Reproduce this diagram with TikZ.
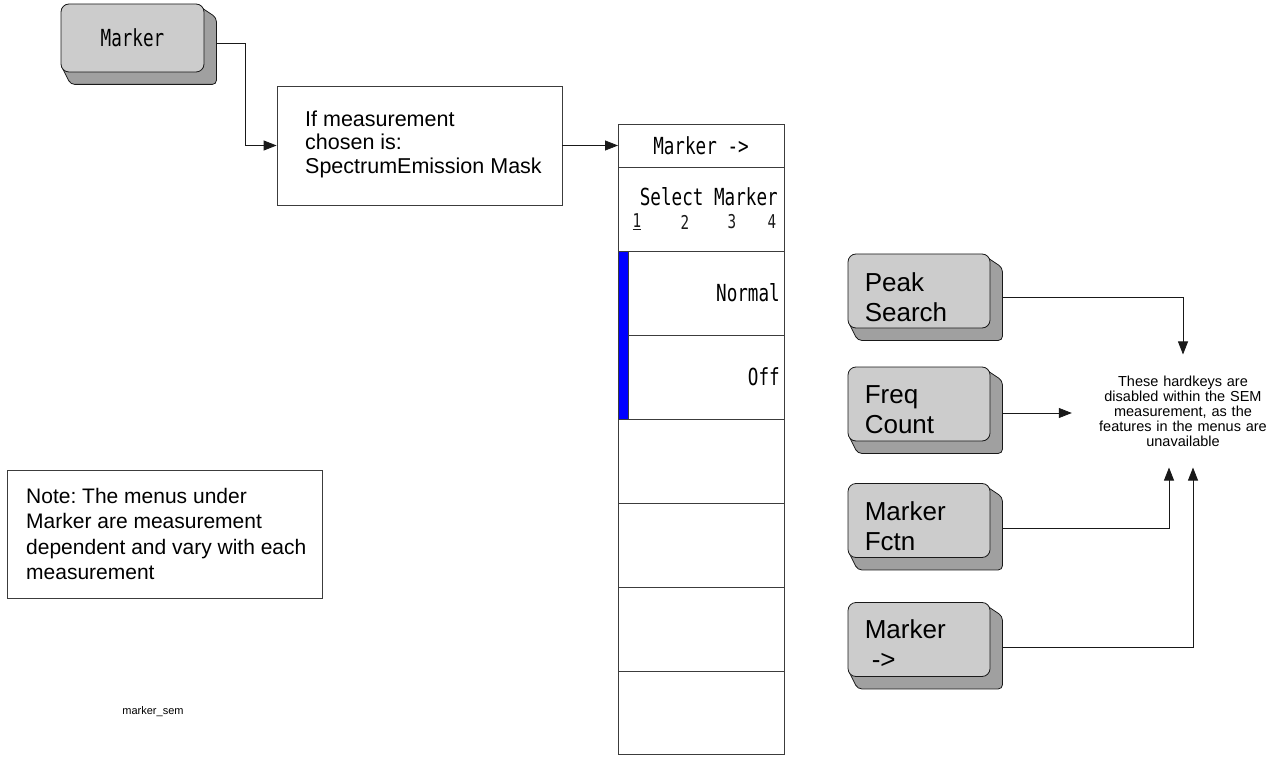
\documentclass[tikz,border=0pt]{standalone}
\usepackage{fontspec}
\setmainfont{Liberation Sans}
\newfontfamily\keyfont[FakeStretch=0.75]{DejaVu Sans Mono}
\usetikzlibrary{calc,arrows.meta,backgrounds}
\definecolor{facec}{RGB}{204,204,204}
\definecolor{shadowc}{RGB}{160,160,160}
\definecolor{linec}{RGB}{25,25,25}
\definecolor{boxline}{RGB}{60,60,60}
\definecolor{barblue}{RGB}{0,0,255}
\frenchspacing
\tikzset{
  conn/.style={draw=linec, line width=0.8pt, -{Triangle[length=13pt,width=10pt]}},
  keyface/.style={draw=linec, fill=facec, rounded corners=8pt, line width=0.8pt,
    minimum width=142pt, minimum height=74pt, inner sep=0pt},
  keytext/.style={anchor=west, align=left, font=\fontsize{26}{30}\selectfont, inner sep=0pt},
  monotext/.style={font=\keyfont\fontsize{23.5}{26}\selectfont, inner sep=0pt},
  numtext/.style={font=\keyfont\fontsize{19}{21}\selectfont, inner sep=0pt, text=linec},
  box/.style={draw=boxline, line width=0.8pt, inner sep=0pt},
  cell/.style={draw=boxline, line width=0.8pt, minimum width=166pt, minimum height=84pt,
    inner sep=0pt, outer sep=0pt, anchor=north},
  bodytext/.style={anchor=west, align=left, inner sep=0pt},
}
\newcommand\keyshadow[1]{%
  \begin{pgfonlayer}{background}
  \filldraw[fill=shadowc, draw=linec, line width=0.8pt, rounded corners=4pt]
    ($(#1.north east)+(-9,0)$) -- ($(#1.north east)+(12,14)$) --
    ($(#1.south east)+(12,12)$) -- ($(#1.south west)+(10,12)$) --
    ($(#1.south west)+(0,-8)$) -- cycle;
  \end{pgfonlayer}}
\begin{document}
\begin{tikzpicture}[x=1pt,y=-1pt]
\useasboundingbox (0,0) rectangle (1266,759);

% ---- Marker hardkey
\node[keyface, minimum width=143pt, minimum height=68pt, monotext] (mk) at (132.5,38) {Marker};
\keyshadow{mk}

% ---- condition box
\node[box, minimum width=285pt, minimum height=119pt] (b2) at (419.5,145.5) {};
\node[bodytext, font=\fontsize{21.5}{23.5}\selectfont] (b2t) at (305,144)
  {If measurement\\chosen is:\\SpectrumEmission Mask};

\coordinate (mko) at ($(mk.east)+(12,5)$);
\draw[conn] (mko) -- ++(29,0) |- (b2.west);

% ---- menu
\node[box, outer sep=0pt, minimum width=166pt, minimum height=43pt, monotext] (hdr) at (701,145.5) {Marker ->};
\draw[conn] (b2.east) -- (hdr.west);
\node[cell] (sel) at (hdr.south) {};
\node[monotext, anchor=east] (selt) at (778,197) {Select Marker};
\node[numtext] (n1) at (637,222) {\underline{1}};
\node[numtext] (n2) at (685,222) {2};
\node[numtext] (n3) at (732,222) {3};
\node[numtext] (n4) at (772,222) {4};
\node[cell] (c1) at (sel.south) {};
\node[cell] (c2) at (c1.south) {};
\node[cell] (c3) at (c2.south) {};
\node[cell] (c4) at (c3.south) {};
\node[cell] (c5) at (c4.south) {};
\node[cell, minimum height=83pt] (c6) at (c5.south) {};
\node[monotext, anchor=east] (c1t) at (780,293) {Normal};
\node[monotext, anchor=east] (c2t) at (780,377) {Off};
\filldraw[fill=barblue, draw=boxline, line width=0.6pt] (c1.north west) rectangle ($(c2.south west)+(10,0)$);

% ---- right hardkeys
\node[keyface] (pk) at (919,291) {};
\keyshadow{pk}
\node[keytext] (pkt) at ($(pk.west)+(17,6)$) {Peak\\Search};
\node[keyface] (fq) at (919,404) {};
\keyshadow{fq}
\node[keytext] (fqt) at ($(fq.west)+(17,6)$) {Freq\\Count};
\node[keyface] (fn) at (919,520.5) {};
\keyshadow{fn}
\node[keytext] (fnt) at ($(fn.west)+(17,6)$) {Marker\\Fctn};
\node[keyface] (ma) at (919,639.5) {};
\keyshadow{ma}
\node[keytext] (mat) at ($(ma.west)+(17,5)$) {Marker\\\hspace*{7pt}->};

% ---- hint text
\node[align=center, text width=170pt, inner xsep=26pt, inner ysep=21pt,
  font=\fontsize{14.5}{15}\selectfont] (hint) at (1183,411)
  {These hardkeys are\\disabled within the SEM\\measurement, as the\\features in the menus are\\unavailable};

\draw[conn] ($(pk.east)+(12,6)$) -| (hint.north);
\coordinate (fqo) at ($(fq.east)+(12,9)$);
\draw[conn] (fqo) -- (fqo -| hint.west);
\coordinate (fno) at ($(fn.east)+(12,8)$);
\draw[conn] (fno) -| ($(hint.south)+(-14,0)$);
\coordinate (mao) at ($(ma.east)+(12,8)$);
\draw[conn] (mao) -| ($(hint.south)+(10,0)$);

% ---- note
\node[box, minimum width=315pt, minimum height=128pt] (note) at (164.5,534) {};
\node[bodytext, font=\fontsize{21}{25.5}\selectfont] (notet) at (26,534)
  {Note: The menus under\\Marker are measurement\\dependent and vary with each\\measurement};

\node[font=\fontsize{11}{13}\selectfont, inner sep=0pt] (fname) at (153,712) {marker\_sem};
\end{tikzpicture}
\end{document}
